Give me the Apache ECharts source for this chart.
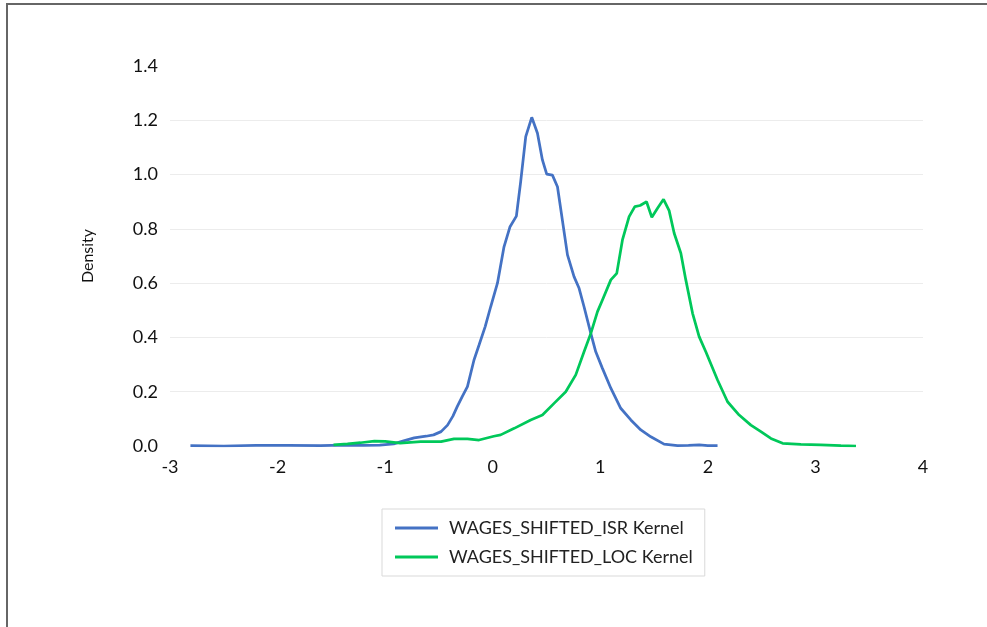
<!DOCTYPE html>
<html>
<head>
<meta charset="utf-8">
<script src="https://cdn.jsdelivr.net/npm/echarts@6/dist/echarts.min.js"></script>
<style>
	html, body { margin: 0; padding: 0; background: #fff; }
	#chart { width: 987px; height: 627px; }
</style>
</head>
<body>
<div id="chart"></div>
<script>
// ISR kernel density (x, density)
var isrX = [ -2.81, -2.5, -2.2, -1.9, -1.6, -1.4, -1.2, -1.05, -0.92, -0.82, -0.73, -0.62, -0.55, -0.48, -0.42, -0.37, -0.33, -0.28, -0.235, -0.174, -0.127, -0.07, -0.019, 0.044, 0.105, 0.161, 0.22, 0.26, 0.307, 0.363, 0.416, 0.462, 0.502, 0.555, 0.602, 0.695, 0.756, 0.803, 0.849, 0.912, 0.958, 1.02, 1.098, 1.19, 1.284, 1.377, 1.47, 1.593, 1.718, 1.82, 1.92, 2.0, 2.09 ];
var isrY = [ 0.001, 0.0, 0.002, 0.002, 0.001, 0.003, 0.002, 0.003, 0.008, 0.02, 0.03, 0.036, 0.041, 0.053, 0.077, 0.11, 0.145, 0.185, 0.219, 0.317, 0.372, 0.44, 0.513, 0.6, 0.734, 0.808, 0.847, 0.974, 1.14, 1.211, 1.152, 1.054, 1.002, 0.998, 0.955, 0.704, 0.624, 0.581, 0.513, 0.415, 0.347, 0.286, 0.213, 0.139, 0.096, 0.059, 0.034, 0.007, 0.001, 0.002, 0.004, 0.001, 0.001 ];
// LOC kernel density
var locX = [ -1.48, -1.35, -1.23, -1.1, -1.0, -0.86, -0.67, -0.48, -0.36, -0.235, -0.127, 0.01, 0.074, 0.2, 0.353, 0.462, 0.57, 0.679, 0.772, 0.849, 0.912, 0.974, 1.02, 1.098, 1.153, 1.206, 1.268, 1.321, 1.37, 1.43, 1.479, 1.532, 1.588, 1.64, 1.687, 1.749, 1.795, 1.858, 1.919, 1.981, 2.09, 2.183, 2.291, 2.4, 2.493, 2.586, 2.695, 2.865, 3.05, 3.237, 3.377 ];
var locY = [ 0.004, 0.008, 0.012, 0.018, 0.017, 0.011, 0.016, 0.016, 0.026, 0.026, 0.022, 0.036, 0.041, 0.065, 0.096, 0.114, 0.157, 0.2, 0.262, 0.347, 0.415, 0.495, 0.538, 0.612, 0.636, 0.759, 0.845, 0.882, 0.886, 0.9, 0.843, 0.876, 0.909, 0.867, 0.784, 0.71, 0.612, 0.489, 0.403, 0.347, 0.243, 0.163, 0.114, 0.077, 0.053, 0.028, 0.01, 0.006, 0.004, 0.001, 0 ];
var seriesNames = [ 'WAGES_SHIFTED_ISR Kernel', 'WAGES_SHIFTED_LOC Kernel' ];

var pairs = function(xs, ys) {
	var out = [];
	for (var i = 0; i < xs.length; i++) {
		out.push([ xs[i], ys[i] ]);
	}
	return out;
};

var myChart = echarts.init(document.getElementById('chart'));
var font = 'Lato, "Liberation Sans", sans-serif';
option = {
	animation : false,
	backgroundColor : '#fff',
	textStyle : { fontFamily : font },
	grid : { left : 170, right : 64, top : 66, bottom : 181 },
	graphic : [ {
		type : 'line',
		shape : { x1 : 6, y1 : 4, x2 : 987, y2 : 4 },
		style : { stroke : '#666', lineWidth : 2 }
	}, {
		type : 'line',
		shape : { x1 : 7, y1 : 4, x2 : 7, y2 : 627 },
		style : { stroke : '#666', lineWidth : 2 }
	} ],
	legend : {
		orient : 'vertical',
		left : 382,
		top : 509,
		padding : [ 10, 12, 10, 13 ],
		itemGap : 11,
		itemWidth : 43,
		itemHeight : 3,
		icon : 'rect',
		borderColor : '#d9d9d9',
		borderWidth : 1,
		textStyle : { fontSize : 18, color : '#222', fontFamily : font, padding : [ 0, 0, 0, 6 ] },
		data : seriesNames
	},
	xAxis : {
		type : 'value',
		min : -3,
		max : 4,
		interval : 1,
		axisLine : { show : false },
		axisTick : { show : false },
		splitLine : { show : false },
		axisLabel : { fontSize : 18, color : '#111', margin : 12 }
	},
	yAxis : {
		type : 'value',
		min : 0,
		max : 1.4,
		interval : 0.2,
		name : 'Density',
		nameLocation : 'middle',
		nameGap : 74,
		nameTextStyle : { fontSize : 16, color : '#111' },
		axisLine : { show : false },
		axisTick : { show : false },
		axisLabel : {
			fontSize : 18,
			color : '#111',
			margin : 12,
			formatter : function(v) { return v.toFixed(1); }
		},
		splitLine : {
			lineStyle : {
				color : [ 'transparent', '#ececec', '#ececec', '#ececec', '#ececec', '#ececec', '#ececec', 'transparent' ],
				width : 1
			}
		}
	},
	series : [ {
		name : seriesNames[0],
		type : 'line',
		symbol : 'none',
		data : pairs(isrX, isrY),
		lineStyle : { color : '#4472C4', width : 2.75 },
		itemStyle : { color : '#4472C4' }
	}, {
		name : seriesNames[1],
		type : 'line',
		symbol : 'none',
		data : pairs(locX, locY),
		lineStyle : { color : '#00C85A', width : 2.75 },
		itemStyle : { color : '#00C85A' }
	} ]
};
myChart.setOption(option);
</script>
</body>
</html>
